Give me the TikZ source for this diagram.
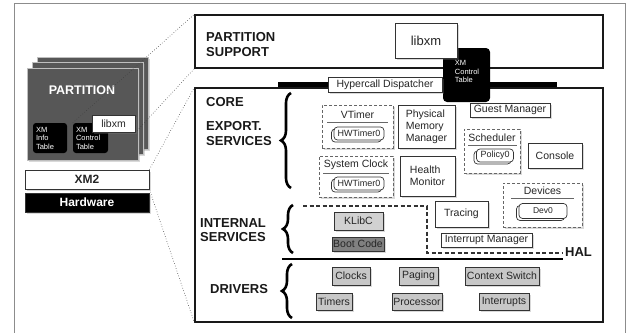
\documentclass[tikz,border=0pt]{standalone}
\usepackage{fontspec}
\setmainfont{Liberation Sans}
\usetikzlibrary{shadows,decorations.pathreplacing}

\tikzset{
    lbl/.style={font=\fontsize{10.5}{12}\selectfont, text=black!85},
    head/.style={font=\bfseries\fontsize{13}{14.5}\selectfont, align=left, anchor=west, inner sep=0pt, text=black!90},
    frame/.style={draw=black!90, line width=1.3pt, inner sep=0pt},
    box/.style={draw=black!80, fill=white, line width=0.8pt, inner sep=0pt, lbl,
        drop shadow={shadow xshift=1.6pt, shadow yshift=-1.6pt, opacity=0.3}},
    drv/.style={box, fill=black!22},
    dbox/.style={draw=black!60, dash pattern=on 3pt off 2pt, fill=white, line width=0.9pt, inner sep=0pt,
        drop shadow={shadow xshift=1.6pt, shadow yshift=-1.6pt, opacity=0.3}},
    rbox/.style={draw=black!80, fill=white, rounded corners=3.5pt, inner sep=0pt, line width=0.7pt,
        font=\fontsize{9}{10}\selectfont, text=black!85,
        copy shadow={shadow xshift=-2.5pt, shadow yshift=-2pt, draw=black!80, fill=white}},
    xmtab/.style={fill=black, rounded corners=3pt, text=white, font=\fontsize{7.5}{8.5}\selectfont, align=left, inner sep=0pt},
    part/.style={fill=black!66, draw=black!25, line width=0.8pt,
        drop shadow={shadow xshift=1.6pt, shadow yshift=-1.6pt, opacity=0.3}},
    sepline/.style={draw=black!60, line width=0.7pt},
    haldash/.style={draw=black!80, line width=1.2pt, dash pattern=on 4pt off 2.5pt},
    hbar/.style={line width=5pt},
    curly/.style={decorate, decoration={brace, amplitude=10pt}, line width=2.6pt},
    zoomline/.style={dotted, black!75, line width=0.6pt}
}

\begin{document}
\begin{tikzpicture}[x=1pt, y=-1pt]
    \useasboundingbox (0,0) rectangle (629,332);
    \draw[black!45, line width=0.8pt] (14,336) -- (14,3) -- (625,3) -- (625,336);

    \node[frame, minimum width=408pt, minimum height=53pt] (psup) at (399,41.5) {};
    \node[frame, minimum width=408pt, minimum height=234pt] (core) at (399,205) {};
    \node[xmtab, minimum width=47pt, minimum height=54pt, rounded corners=4pt] (xmtop) at (466.5,75) {};
    \node[xmtab] (xmtoptxt) at (467,71.5) {XM\\Control\\Table};
    \coordinate (hbl) at (278,84.5);
    \coordinate (hbr) at (557,84.5);
    \draw[hbar] (hbl) -- (hbr);
    \node[box, minimum width=62pt, minimum height=35pt, font=\fontsize{13}{15}\selectfont] (libxmtop) at (426,40.5) {libxm};
    \node[box, minimum width=114pt, minimum height=15pt] (hyper) at (385,84.5) {Hypercall Dispatcher};

    \node[head] (pstxt) at (206,44.5) {PARTITION\\SUPPORT};
    \node[head] (coretxt) at (206,102) {CORE};
    \node[head] (exptxt) at (206,133.5) {EXPORT.\\SERVICES};
    \node[head] (inttxt) at (200,230) {INTERNAL\\SERVICES};
    \node[head] (drvtxt) at (210,289) {DRIVERS};
    \node[head] (haltxt) at (565,252.5) {HAL};
    \draw[curly] (291,188) -- (291,93);
    \draw[curly] (293,253) -- (293,205);
    \draw[curly] (292,318) -- (292,264);

    \node[dbox, minimum width=71pt, minimum height=43pt] (vtimer) at (357.5,126.5) {};
    \node[lbl] (vtimertxt) at (357.5,114.5) {VTimer};
    \draw[sepline] (327,122) -- (388,122);
    \node[rbox, minimum width=50pt, minimum height=13pt] (hwtone) at (359,133.5) {HWTimer0};
    \node[box, minimum width=57pt, minimum height=43pt, align=left] (pmm) at (426.5,126.5) {Physical\\Memory\\Manager};
    \node[dbox, minimum width=74pt, minimum height=41pt] (sysclk) at (356,176.5) {};
    \node[lbl] (sysclktxt) at (356,165) {System Clock};
    \draw[sepline] (323,173) -- (389,173);
    \node[rbox, minimum width=50pt, minimum height=13pt] (hwttwo) at (359,183.5) {HWTimer0};
    \node[box, minimum width=55pt, minimum height=40pt, align=left] (health) at (427.5,176) {Health\\Monitor};
    \node[box, minimum width=80pt, minimum height=14pt] (guest) at (510,110) {Guest Manager};
    \node[dbox, minimum width=56pt, minimum height=44pt] (sched) at (492,151) {};
    \node[lbl] (schedtxt) at (492,137.5) {Scheduler};
    \draw[sepline] (468,145) -- (517,145);
    \node[rbox, minimum width=37pt, minimum height=13pt] (policy) at (495,155.5) {Policy0};
    \node[box, minimum width=54pt, minimum height=25pt] (console) at (555,155.5) {Console};
    \node[dbox, minimum width=79pt, minimum height=44pt] (devices) at (542.5,205) {};
    \node[lbl] (devtxt) at (542.5,190.5) {Devices};
    \draw[sepline] (511,198) -- (574,198);
    \node[rbox, minimum width=48pt, minimum height=15pt, font=\fontsize{8.5}{10}\selectfont] (devzero) at (543,211) {Dev0};
    \node[box, minimum width=53pt, minimum height=26pt] (tracing) at (461.5,214) {Tracing};
    \node[box, minimum width=91pt, minimum height=14pt] (irqmgr) at (486.5,240) {Interrupt Manager};

    \draw[haldash] (303,206) -- (427,206) -- (427,253) -- (563,253);
    \draw[line width=1.3pt] (282,259) -- (563,259);
    \node[box, fill=black!18, minimum width=49pt, minimum height=18pt] (klibc) at (358.5,221) {KLibC};
    \node[box, fill=black!50, minimum width=52pt, minimum height=14pt] (boot) at (358,244) {Boot Code};

    \node[drv, minimum width=38pt, minimum height=18pt] (clocks) at (351,276) {Clocks};
    \node[drv, minimum width=39pt, minimum height=18pt] (paging) at (418.5,276) {Paging};
    \node[drv, minimum width=74pt, minimum height=18pt] (ctxsw) at (502,276) {Context Switch};
    \node[drv, minimum width=36pt, minimum height=17pt] (timers) at (334,301.5) {Timers};
    \node[drv, minimum width=50pt, minimum height=17pt] (proc) at (417,301.5) {Processor};
    \node[drv, minimum width=50pt, minimum height=17pt] (irqs) at (504,301.5) {Interrupts};

    \foreach \d/\n in {10.5/c,5.25/b,0/a}
        \node[part, minimum width=111pt, minimum height=92pt] (part\n) at (82.5+\d,114-\d) {};
    \node[font=\bfseries\fontsize{12.5}{14}\selectfont, text=white] (parttxt) at (82,90) {PARTITION};
    \node[xmtab, minimum height=30pt, text width=28pt, inner xsep=3pt] (xminfo) at (50,138) {XM\\Info\\Table};
    \node[xmtab, minimum height=30pt, text width=29pt, inner xsep=3pt] (xmctl) at (90.5,138) {XM\\Control\\Table};
    \node[box, minimum width=43pt, minimum height=17pt] (libxm) at (113.5,123.5) {libxm};
    \node[box, minimum width=124pt, minimum height=19pt, font=\bfseries\fontsize{12}{14}\selectfont] (xmtwo) at (87,179.5) {XM2};
    \node[box, fill=black, text=white, minimum width=124pt, minimum height=19pt, font=\bfseries\fontsize{12}{14}\selectfont] (hw) at (87,202.5) {Hardware};

    \draw[zoomline] (xmctl.north west) -- (psup.north west);
    \draw[zoomline] (libxm.south east) -- (psup.south west);
    \draw[zoomline] (xmtwo.north east) -- (core.north west);
    \draw[zoomline] (xmtwo.south east) -- (core.south west);
\end{tikzpicture}
\end{document}
